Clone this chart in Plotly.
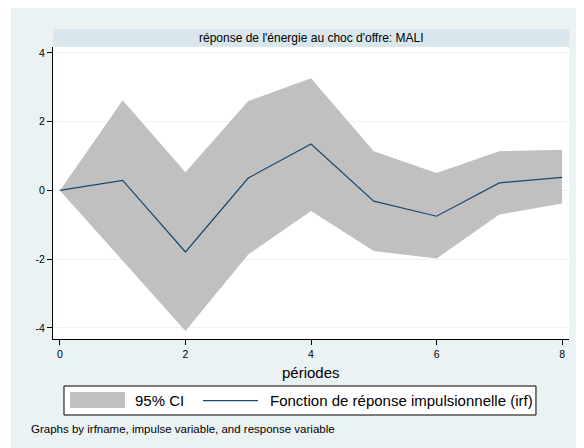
import plotly.graph_objects as go

# horizon steps and impulse response
periodes = [0, 1, 2, 3, 4, 5, 6, 7, 8]
irf = [0, 0.29, -1.79, 0.36, 1.35, -0.31, -0.75, 0.22, 0.38]
ci_haut = [0, 2.62, 0.53, 2.60, 3.26, 1.14, 0.51, 1.14, 1.18]
ci_bas = [0, -2.05, -4.09, -1.86, -0.60, -1.76, -1.98, -0.70, -0.38]

y_ticks = [-4, -2, 0, 2, 4]
y_labels = ["-4", "-2", "0", "2", "4"]
x_ticks = [0, 2, 4, 6, 8]

font = "Liberation Sans, Arial, sans-serif"
fond = "#EAF2F3"
bande = "#D9E6EB"
gris = "#C0C0C0"
marine = "#1A476F"

fig = go.Figure()
fig.add_trace(go.Scatter(x=periodes, y=ci_bas, mode="lines", line=dict(width=0),
                         showlegend=False, hoverinfo="skip"))
fig.add_trace(go.Scatter(x=periodes, y=ci_haut, mode="lines", line=dict(width=0),
                         fill="tonexty", fillcolor=gris, name="95% CI", showlegend=False))
fig.add_trace(go.Scatter(x=periodes, y=irf, mode="lines", line=dict(color=marine, width=1.2),
                         name="Fonction de réponse impulsionnelle (irf)", showlegend=False))

# legend drawn by hand, stata style (box, swatch, line sample)
def rect(x0, x1, y0, y1, **kw):
    return dict(type="rect", xref="paper", yref="paper", x0=x0, x1=x1, y0=y0, y1=y1, **kw)

shapes = [
    rect(-0.0872, -0.0814, -0.5, 1.3, fillcolor="white", line=dict(width=0), layer="below"),
    rect(0, 1, 1, 1.0616, fillcolor=bande, line=dict(width=0)),
    rect(0.0213, 0.9360, -0.161, -0.2603, fillcolor="white", line=dict(color="black", width=1)),
    rect(0.0329, 0.1395, -0.1815, -0.2363, fillcolor=gris, line=dict(width=0)),
    dict(type="line", xref="paper", yref="paper", x0=0.2907, x1=0.3973, y0=-0.2113, y1=-0.2113,
         line=dict(color=marine, width=1.2)),
]

annotations = [
    dict(text="réponse de l'énergie au choc d'offre: MALI", x=0.5, y=1.0308,
         xanchor="center", font=dict(size=12)),
    dict(text="périodes", x=0.5, y=-0.1164, xanchor="center", font=dict(size=15)),
    dict(text="95% CI", x=0.155, y=-0.2106, xanchor="left", font=dict(size=15)),
    dict(text="Fonction de réponse impulsionnelle (irf)", x=0.4157, y=-0.2106,
         xanchor="left", font=dict(size=15)),
    dict(text="Graphs by irfname, impulse variable, and response variable",
         x=-0.0465, y=-0.308, xanchor="left", font=dict(size=11.5)),
]
for a in annotations:
    a.update(xref="paper", yref="paper", yanchor="middle", showarrow=False)

# plot area: 516 x 292 px
fig.update_layout(
    width=584, height=448,
    margin=dict(l=45, r=23, t=39, b=117),
    paper_bgcolor=fond, plot_bgcolor="white",
    font=dict(family=font, color="black"),
    showlegend=False,
    shapes=shapes,
    annotations=annotations,
)

fig.update_xaxes(range=[-0.11, 8.11], tickvals=x_ticks, showgrid=False, zeroline=False,
                 showline=True, linecolor="black", linewidth=1,
                 ticks="outside", ticklen=5, tickcolor="black", tickfont=dict(size=10.5))
fig.update_yaxes(range=[-4.32, 4.17], tickvals=y_ticks, ticktext=y_labels,
                 showgrid=True, gridcolor=fond, gridwidth=1, zeroline=False,
                 showline=True, linecolor="black", linewidth=1,
                 ticks="outside", ticklen=5, tickcolor="black", tickfont=dict(size=10.5))

fig.write_html("out.html")
